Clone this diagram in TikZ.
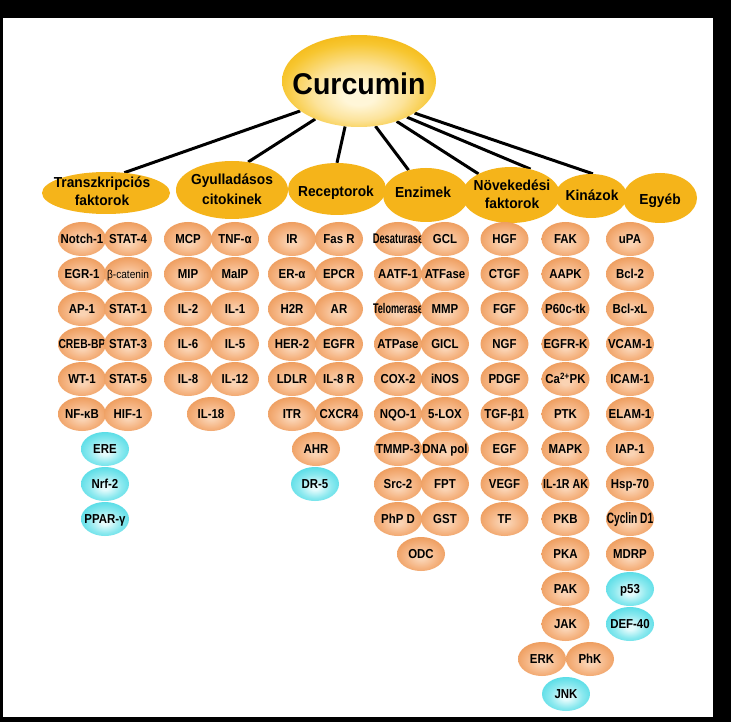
\documentclass[tikz,border=0pt]{standalone}
\usepackage{fontspec}
\setmainfont{Liberation Sans}
\newfontfamily\smf{Liberation Sans}[FakeStretch=0.88]
\usetikzlibrary{shapes.geometric}
\definecolor{gold}{HTML}{F5B41A}
\definecolor{pin}{HTML}{FAD3B3}
\definecolor{pmid}{HTML}{F5B482}
\definecolor{pout}{HTML}{EB9450}
\definecolor{cin}{HTML}{E4FBFC}
\definecolor{cmid}{HTML}{8CE9EF}
\definecolor{cout}{HTML}{45D8E3}
\definecolor{yin}{HTML}{FFF6D8}
\definecolor{ymid}{HTML}{FCE39A}
\definecolor{ymid2}{HTML}{F7C630}
\definecolor{yout}{HTML}{F2AE00}
\pgfdeclareradialshading{peach}{\pgfpoint{0bp}{-5bp}}{color(0bp)=(pin); color(4bp)=(pin); color(17bp)=(pmid); color(32bp)=(pout); color(50bp)=(pout)}
\pgfdeclareradialshading{cyanish}{\pgfpoint{0bp}{-5bp}}{color(0bp)=(cin); color(4bp)=(cin); color(17bp)=(cmid); color(32bp)=(cout); color(50bp)=(cout)}
\pgfdeclareradialshading{curshade}{\pgfpoint{0bp}{-9bp}}{color(0bp)=(yin); color(5bp)=(yin); color(15bp)=(ymid); color(25bp)=(ymid2); color(34bp)=(yout); color(50bp)=(yout)}
\pgfdeclarelayer{bg}
\pgfdeclarelayer{ln}
\pgfsetlayers{bg,ln,main}
\newcommand\zz[1]{\makebox[0pt]{#1}}
\newcommand\nr[2]{\scalebox{#1}[1]{#2}}
\newcommand\bl[5]{\node[#1] (#2) at (#3,{239+35*(#4)}) {\zz{#5}};}
\tikzset{
  cat/.style={ellipse, fill=gold, draw=none, inner sep=0pt},
  ctxt/.style={font=\fontsize{14.5}{17}\selectfont\bfseries, inner sep=0pt, anchor=base},
  sm/.style={ellipse, inner sep=0pt, minimum width=48pt, minimum height=34pt,
             text height=9.5pt, text depth=0pt, font=\smf\fontsize{13}{13}\selectfont\bfseries},
  pe/.style={sm, shading=peach},
  cy/.style={sm, shading=cyanish},
  conn/.style={line width=3pt, black}
}
\begin{document}
\begin{tikzpicture}[x=1pt,y=-1pt]
\useasboundingbox (0,0) rectangle (731,722);
\begin{pgfonlayer}{bg}
\fill[black] (0,0) rectangle (731,722);
\fill[white] (3,18) rectangle (713,717);
\end{pgfonlayer}

% Curcumin
\node[ellipse, shading=curshade, inner sep=0pt, minimum width=154pt, minimum height=92pt] (c) at (359,81) {};
\node[font=\fontsize{30}{30}\selectfont\bfseries, inner sep=0pt, anchor=base] (ctx) at (359,95) {\scalebox{0.95}[1]{Curcumin}};

% categories
\node[cat, minimum width=128pt, minimum height=42pt] (trans) at (106,193) {};
\node[cat, minimum width=112pt, minimum height=58pt] (gyul) at (232,190) {};
\node[cat, minimum width=98pt, minimum height=52pt] (rec) at (337,189) {};
\node[cat, minimum width=86pt, minimum height=54pt] (enz) at (426,195) {};
\node[cat, minimum width=98pt, minimum height=56pt] (nov) at (511,195) {};
\node[cat, minimum width=72pt, minimum height=44pt] (kin) at (591,196) {};
\node[cat, minimum width=74pt, minimum height=50pt] (egy) at (660,198) {};

\node[ctxt] (t1a) at (102,188) {\nr{0.95}{Transzkripciós}};
\node[ctxt] (t1b) at (102,206) {\nr{0.95}{faktorok}};
\node[ctxt] (t2a) at (232,185) {\nr{0.95}{Gyulladásos}};
\node[ctxt] (t2b) at (232,205) {\nr{0.95}{citokinek}};
\node[ctxt] (t3) at (336,197) {\nr{0.95}{Receptorok}};
\node[ctxt] (t4) at (423,198) {\nr{0.95}{Enzimek}};
\node[ctxt] (t5a) at (512,191) {\nr{0.95}{Növekedési}};
\node[ctxt] (t5b) at (512,208.5) {\nr{0.95}{faktorok}};
\node[ctxt] (t6) at (592,201) {\nr{0.95}{Kinázok}};
\node[ctxt] (t7) at (660,205) {\nr{0.95}{Egyéb}};

% connectors
\begin{pgfonlayer}{ln}
\draw[conn] (c.207) -- (trans.48);
\draw[conn] (c.221) -- (gyul.60);
\draw[conn] (c.253) -- (rec.north);
\draw[conn] (c.290) -- (enz.125);
\draw[conn] (c.313) -- (nov.147);
\draw[conn] (c.323) -- (nov.53);
\draw[conn] (c.330) -- (kin.85);
\end{pgfonlayer}

% Transzkripciós faktorok
\bl{pe}{a1}{82}{0}{Notch-1} \bl{pe}{a2}{128}{0}{STAT-4}
\bl{pe}{a3}{82}{1}{EGR-1} \bl{pe}{a4}{128}{1}{\mdseries\fontsize{11.5}{11.5}\selectfont β-catenin}
\bl{pe}{a5}{82}{2}{AP-1} \bl{pe}{a6}{128}{2}{STAT-1}
\bl{pe}{a7}{82}{3}{\nr{0.9}{CREB-BP}} \bl{pe}{a8}{128}{3}{STAT-3}
\bl{pe}{a9}{82}{4}{WT-1} \bl{pe}{a10}{128}{4}{STAT-5}
\bl{pe}{a11}{82}{5}{NF-κB} \bl{pe}{a12}{128}{5}{HIF-1}
\bl{cy}{a13}{105}{6}{ERE}
\bl{cy}{a14}{105}{7}{Nrf-2}
\bl{cy}{a15}{105}{8}{PPAR-γ}

% Gyulladásos citokinek
\bl{pe}{b1}{188}{0}{MCP} \bl{pe}{b2}{235}{0}{TNF-α}
\bl{pe}{b3}{188}{1}{MIP} \bl{pe}{b4}{235}{1}{MaIP}
\bl{pe}{b5}{188}{2}{IL-2} \bl{pe}{b6}{235}{2}{IL-1}
\bl{pe}{b7}{188}{3}{IL-6} \bl{pe}{b8}{235}{3}{IL-5}
\bl{pe}{b9}{188}{4}{IL-8} \bl{pe}{b10}{235}{4}{IL-12}
\bl{pe}{b11}{211}{5}{IL-18}

% Receptorok
\bl{pe}{r1}{292}{0}{IR} \bl{pe}{r2}{339}{0}{Fas R}
\bl{pe}{r3}{292}{1}{ER-α} \bl{pe}{r4}{339}{1}{EPCR}
\bl{pe}{r5}{292}{2}{H2R} \bl{pe}{r6}{339}{2}{AR}
\bl{pe}{r7}{292}{3}{HER-2} \bl{pe}{r8}{339}{3}{EGFR}
\bl{pe}{r9}{292}{4}{LDLR} \bl{pe}{r10}{339}{4}{IL-8 R}
\bl{pe}{r11}{292}{5}{ITR} \bl{pe}{r12}{339}{5}{CXCR4}
\bl{pe}{r13}{316}{6}{AHR}
\bl{cy}{r14}{315}{7}{DR-5}

% Enzimek
\bl{pe}{e1}{398}{0}{\fontsize{14}{14}\selectfont\nr{0.76}{Desaturase}} \bl{pe}{e2}{445}{0}{GCL}
\bl{pe}{e3}{398}{1}{AATF-1} \bl{pe}{e4}{445}{1}{ATFase}
\bl{pe}{e5}{398}{2}{\fontsize{14}{14}\selectfont\nr{0.74}{Telomerase}} \bl{pe}{e6}{445}{2}{MMP}
\bl{pe}{e7}{398}{3}{ATPase} \bl{pe}{e8}{445}{3}{GICL}
\bl{pe}{e9}{398}{4}{COX-2} \bl{pe}{e10}{445}{4}{iNOS}
\bl{pe}{e11}{398}{5}{NQO-1} \bl{pe}{e12}{445}{5}{5-LOX}
\bl{pe}{e13}{398}{6}{TMMP-3} \bl{pe}{e14}{445}{6}{DNA pol}
\bl{pe}{e15}{398}{7}{Src-2} \bl{pe}{e16}{445}{7}{FPT}
\bl{pe}{e17}{398}{8}{PhP D} \bl{pe}{e18}{445}{8}{GST}
\bl{pe}{e19}{421}{9}{ODC}

% Növekedési faktorok
\bl{pe}{n1}{504.5}{0}{HGF}
\bl{pe}{n2}{504.5}{1}{CTGF}
\bl{pe}{n3}{504.5}{2}{FGF}
\bl{pe}{n4}{504.5}{3}{NGF}
\bl{pe}{n5}{504.5}{4}{PDGF}
\bl{pe}{n6}{504.5}{5}{TGF-β1}
\bl{pe}{n7}{504.5}{6}{EGF}
\bl{pe}{n8}{504.5}{7}{VEGF}
\bl{pe}{n9}{504.5}{8}{TF}

% Kinázok
\bl{pe}{k1}{565.5}{0}{FAK}
\bl{pe}{k2}{565.5}{1}{AAPK}
\bl{pe}{k3}{565.5}{2}{P60c-tk}
\bl{pe}{k4}{565.5}{3}{EGFR-K}
\bl{pe}{k5}{565.5}{4}{Ca\textsuperscript{2+}PK}
\bl{pe}{k6}{565.5}{5}{PTK}
\bl{pe}{k7}{565.5}{6}{MAPK}
\bl{pe}{k8}{565.5}{7}{\nr{0.93}{IL-1R AK}}
\bl{pe}{k9}{565.5}{8}{PKB}
\bl{pe}{k10}{565.5}{9}{PKA}
\bl{pe}{k11}{565.5}{10}{PAK}
\bl{pe}{k12}{565.5}{11}{JAK}
\bl{pe}{k13}{542}{12}{ERK} \bl{pe}{k14}{590}{12}{PhK}
\bl{cy}{k15}{566}{13}{JNK}

% Egyéb
\bl{pe}{g1}{630}{0}{uPA}
\bl{pe}{g2}{630}{1}{Bcl-2}
\bl{pe}{g3}{630}{2}{Bcl-xL}
\bl{pe}{g4}{630}{3}{VCAM-1}
\bl{pe}{g5}{630}{4}{ICAM-1}
\bl{pe}{g6}{630}{5}{ELAM-1}
\bl{pe}{g7}{630}{6}{IAP-1}
\bl{pe}{g8}{630}{7}{Hsp-70}
\bl{pe}{g9}{630}{8}{\fontsize{15}{15}\selectfont\nr{0.77}{Cyclin D1}}
\bl{pe}{g10}{630}{9}{MDRP}
\bl{cy}{g11}{630}{10}{p53}
\bl{cy}{g12}{630}{11}{DEF-40}
\end{tikzpicture}
\end{document}
